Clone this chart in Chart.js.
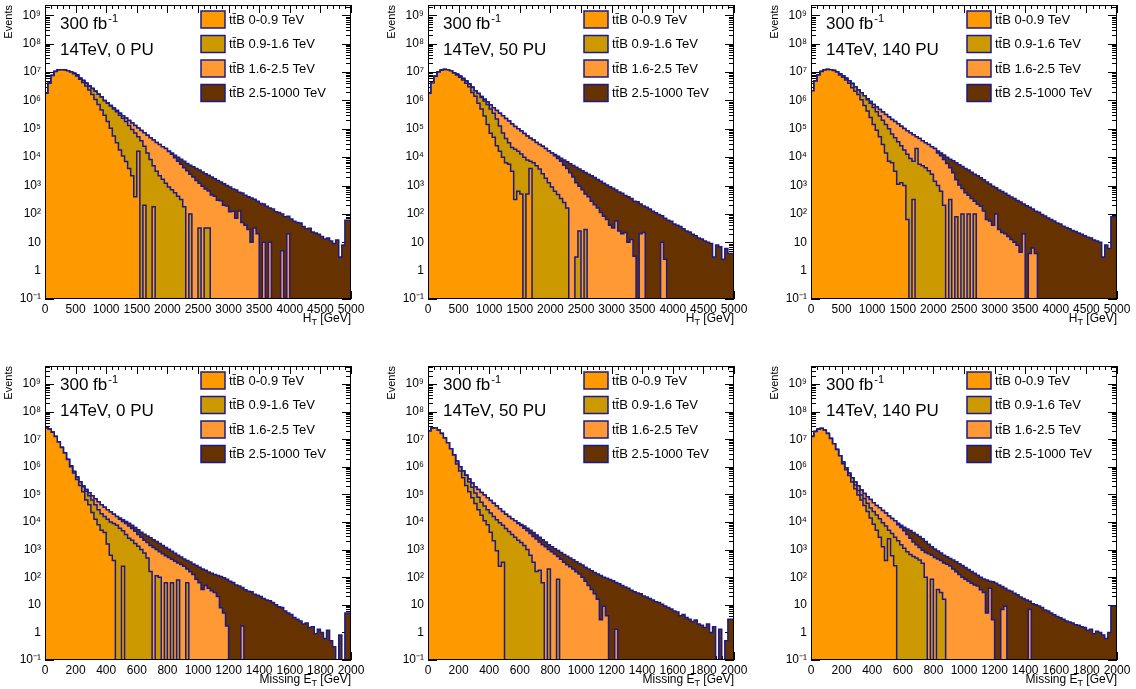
<!DOCTYPE html>
<html>
<head>
<meta charset="utf-8">
<script src="https://cdn.jsdelivr.net/npm/chart.js@4.4.1/dist/chart.umd.min.js"></script>
<style>
  html, body { margin: 0; padding: 0; background: #fff; overflow: hidden; }
  canvas { position: absolute; }
</style>
</head>
<body>
<script>
// Samples of the stack, bottom layer first
const sampleLabels = ['tt\u0304B 0-0.9 TeV', 'tt\u0304B 0.9-1.6 TeV', 'tt\u0304B 1.6-2.5 TeV', 'tt\u0304B 2.5-1000 TeV'];
const sampleColors = ['#ff9900', '#cc9900', '#ff9933', '#663300'];

// Bins: H_T 0-5000 GeV in 50 GeV bins, missing E_T 0-2000 GeV in 20 GeV bins
const htEdges = Array.from({ length: 101 }, (_, i) => i * 50);
const metEdges = Array.from({ length: 101 }, (_, i) => i * 20);
const htTicks = [0, 500, 1000, 1500, 2000, 2500, 3000, 3500, 4000, 4500, 5000];
const metTicks = [0, 200, 400, 600, 800, 1000, 1200, 1400, 1600, 1800, 2000];
const yTickValues = [0.1, 1, 10, 1e2, 1e3, 1e4, 1e5, 1e6, 1e7, 1e8, 1e9];
const yTickLabels = ['10\u207b\u00b9', '1', '10', '10\u00b2', '10\u00b3', '10\u2074', '10\u2075', '10\u2076', '10\u2077', '10\u2078', '10\u2079'];

// Events per bin. "Total" is the top of the stack,
// "TopN" is the upper edge of layer N (layers 1..N summed), as drawn.
// Bins after the last listed value are empty.

// H_T, 0 PU
const ht0Total = [
  5e5, 1.8e6, 4e6, 7.6e6, 1.05e7, 1.17e7, 1.2e7, 1.17e7, 1.1e7, 1e7,
  9.1e6, 7.9e6, 6e6, 5e6, 4e6, 3.2e6, 2.6e6, 2.1e6, 1.66e6, 1.32e6,
  1e6, 8.1e5, 6.6e5, 5.4e5, 4.4e5, 3.5e5, 2.9e5, 2.4e5, 1.95e5, 1.6e5,
  1.3e5, 1.07e5, 8.7e4, 7.2e4, 5.9e4, 4.8e4, 4e4, 3.3e4, 2.8e4, 2.3e4,
  2e4, 1.66e4, 1.4e4, 1.17e4, 1e4, 8500, 7200, 6000, 5200, 4600,
  4000, 3500, 3000, 2600, 2300, 2000, 1740, 1500, 1320, 1150,
  1000, 880, 760, 690, 580, 540, 450, 400, 360, 330,
  280, 230, 225, 185, 160, 150, 120, 112, 100, 80,
  82, 66, 55, 50, 48, 36, 30, 31, 23, 21,
  19, 16, 13, 14, 11, 9, 12, 3, 8, 60];
const ht0Top3 = [...ht0Total.slice(0, 41),
  1.58e4, 1.26e4, 9500, 7100, 5600, 4200, 3300, 2500, 2000, 1500,
  1200, 950, 760, 640, 460, 420, 300, 290, 200, 190,
  120, 125, 70, 126, 50, 40, 28, 10, 32, 20,
  0, 10, 0, 10, 0, 0, 0, 5, 0, 20];
const ht0Top2 = [...ht0Total.slice(0, 20),
  9.8e5, 7.9e5, 6.3e5, 5e5, 4e5, 3e5, 2.35e5, 1.8e5, 1.3e5, 9.5e4,
  7.1e4, 5.2e4, 3.8e4, 2.4e4, 1.4e4, 8300, 5000, 3200, 2200, 1660,
  1200, 890, 710, 560, 420, 320, 180, 0, 100, 0,
  0, 32, 0, 32, 32];
const ht0Top1 = [...ht0Total.slice(0, 10),
  8.7e6, 7.2e6, 5.6e6, 4.3e6, 3.2e6, 2.3e6, 1.6e6, 1.07e6, 7.1e5, 4.6e5,
  3e5, 1.8e5, 1.05e5, 5.6e4, 3.2e4, 1.8e4, 1.1e4, 7000, 4000, 2200,
  400, 1.6e4, 0, 200, 0, 0, 180];

// H_T, 50 PU
const ht50Total = [
  4e5, 1.8e6, 4.2e6, 7.1e6, 1e7, 1.15e7, 1.23e7, 1.2e7, 1.1e7, 9.3e6,
  8.3e6, 7.1e6, 5.9e6, 4.8e6, 3.8e6, 2.9e6, 2.2e6, 1.74e6, 1.38e6, 1.1e6,
  8.7e5, 6.9e5, 5.5e5, 4.4e5, 3.5e5, 2.9e5, 2.3e5, 1.86e5, 1.48e5, 1.2e5,
  1e5, 8.3e4, 6.8e4, 5.6e4, 4.6e4, 4e4, 3.3e4, 2.8e4, 2.4e4, 2e4,
  1.66e4, 1.4e4, 1.23e4, 1.07e4, 9100, 7900, 6900, 5900, 5100, 4400,
  3800, 3300, 2900, 2500, 2200, 1900, 1620, 1410, 1200, 1050,
  910, 800, 700, 590, 530, 440, 400, 350, 280, 265,
  225, 190, 170, 150, 125, 110, 95, 86, 70, 60,
  55, 44, 40, 36, 30, 25, 23, 19, 17, 14,
  13, 11, 10, 9, 3, 8, 7, 2.5, 6, 4];
const ht50Top3 = [...ht50Total.slice(0, 42),
  1.12e4, 8900, 7100, 5200, 4000, 2800, 2000, 1260, 950, 710,
  500, 400, 280, 210, 160, 112, 83, 63, 40, 32,
  56, 25, 20, 22, 10, 12.6, 3.2, 0, 20, 22,
  0, 0, 0, 0, 0, 10, 2.5];
const ht50Top2 = [...ht50Total.slice(0, 18),
  1.26e6, 9.5e5, 7.1e5, 5e5, 3.5e5, 2.2e5, 1.26e5, 7.1e4, 4.5e4, 3.2e4,
  2.2e4, 1.9e4, 1.6e4, 1.3e4, 1e4, 7900, 7100, 6300, 5000, 3800,
  2600, 1800, 1260, 890, 630, 480, 350, 250, 160, 0,
  0, 3, 25, 0, 28];
const ht50Top1 = [...ht50Total.slice(0, 10),
  7.9e6, 6.6e6, 5.2e6, 4e6, 3e6, 1.9e6, 1.4e6, 8e5, 5e5, 2.8e5,
  1.4e5, 7e4, 5e4, 2.5e4, 1.6e4, 1e4, 6300, 5600, 3200, 320,
  630, 500, 0, 500, 4000];

// H_T, 140 PU
const ht140Total = [
  6.3e5, 2.2e6, 4.8e6, 7.9e6, 1.05e7, 1.17e7, 1.23e7, 1.2e7, 1.12e7, 1e7,
  8.7e6, 7.4e6, 6e6, 4.9e6, 3.9e6, 3e6, 2.3e6, 1.86e6, 1.45e6, 1.15e6,
  9.1e5, 7.2e5, 5.9e5, 4.8e5, 3.9e5, 3.2e5, 2.6e5, 2.1e5, 1.8e5, 1.5e5,
  1.23e5, 1.02e5, 8.5e4, 7.2e4, 6.2e4, 5.2e4, 4.5e4, 3.8e4, 3.2e4, 2.8e4,
  2.3e4, 2e4, 1.66e4, 1.4e4, 1.2e4, 1e4, 8500, 7400, 6300, 5400,
  4700, 4000, 3500, 2950, 2500, 2200, 1860, 1580, 1320, 1120,
  950, 840, 690, 610, 530, 450, 390, 345, 295, 260,
  225, 195, 170, 148, 125, 115, 95, 84, 72, 64,
  56, 48, 44, 37, 33, 30, 26, 24, 21, 19,
  17, 15, 14, 12, 11, 10, 3, 8, 6, 80];
const ht140Top3 = [...ht140Total.slice(0, 42),
  1.4e4, 1.12e4, 8300, 6000, 4200, 2800, 1600, 1050, 790, 560,
  450, 350, 280, 220, 186, 126, 63, 56, 40, 100,
  28, 22, 20, 16, 12.6, 10, 7.9, 4.4, 20, 0,
  4, 6.3, 4];
const ht140Top2 = [...ht140Total.slice(0, 19),
  1.05e6, 7.9e5, 5.6e5, 4e5, 2.8e5, 2e5, 1.4e5, 1e5, 6.6e4, 4.8e4,
  3.5e4, 2.5e4, 1.8e4, 1.26e4, 8900, 7100, 2e4, 5600, 5000, 4200,
  3300, 2500, 1400, 1000, 630, 200, 0, 320, 0, 80,
  0, 100, 0, 100, 0, 100];
const ht140Top1 = [...ht140Total.slice(0, 10),
  7.9e6, 6.6e6, 5.2e6, 4e6, 2.8e6, 2.1e6, 1.6e6, 1.05e6, 6.6e5, 4.2e5,
  2.5e5, 1.4e5, 8.9e4, 5.2e4, 2.8e4, 1.4e4, 7100, 6300, 3200, 1100,
  1260, 1000, 63, 0, 320];

// Missing E_T, 0 PU
const met0Total = [
  5.6e6, 2.55e7, 2.3e7, 1.8e7, 1.26e7, 7.9e6, 5e6, 3.2e6, 1.86e6, 1.1e6,
  6.8e5, 4.3e5, 2.8e5, 2e5, 1.5e5, 1.15e5, 8.9e4, 6.9e4, 5.4e4, 4.2e4,
  3.4e4, 2.8e4, 2.3e4, 1.9e4, 1.6e4, 1.4e4, 1.2e4, 1.05e4, 9100, 7600,
  6300, 5200, 4300, 3600, 3100, 2700, 2300, 1950, 1660, 1400,
  1200, 1020, 870, 740, 630, 540, 460, 400, 355, 300,
  263, 229, 200, 178, 155, 138, 126, 115, 105, 95,
  85, 72, 64, 52, 48, 42, 35, 31, 30, 24,
  22, 20, 17, 15, 14, 12, 10, 8.5, 8, 6,
  5, 4.5, 3.5, 3, 2.6, 2, 2.2, 1.5, 1.6, 0.9,
  1.3, 1, 0.6, 1.2, 0.5, 0.3, 0, 0.8, 0, 5];
const met0Top3 = [...met0Total.slice(0, 25),
  1.26e4, 1.05e4, 8900, 7200, 5800, 4600, 3500, 2800, 2200, 1800,
  1400, 1200, 1000, 830, 710, 600, 520, 450, 380, 330,
  290, 250, 200, 158, 126, 85, 63, 36, 50, 40,
  32, 28, 20, 7.9, 5, 1.7, 0, 0, 0, 0, 1.7];
const met0Top2 = [...met0Total.slice(0, 13),
  1.9e5, 1.3e5, 8.9e4, 6.3e4, 4.2e4, 2.8e4, 2e4, 1.6e4, 1.26e4, 1e4,
  8900, 7600, 6000, 4800, 3500, 2600, 2200, 1660, 1320, 1000,
  760, 500, 160, 0, 112, 100, 0, 63, 0, 63,
  0, 80, 0, 0, 63];
const met0Top1 = [...met0Total.slice(0, 9),
  1e6, 6e5, 3.5e5, 2.1e5, 1.26e5, 6.3e4, 4.2e4, 2.2e4, 1.26e4, 7900,
  5000, 4200, 1600, 630, 400, 0, 0, 250];

// Missing E_T, 50 PU
const met50Total = [
  2.5e6, 2e7, 2.5e7, 2.6e7, 2.1e7, 1.6e7, 1.1e7, 7.4e6, 4.5e6, 2.7e6,
  1.6e6, 1e6, 7.1e5, 5e5, 3.6e5, 2.6e5, 1.9e5, 1.5e5, 1.17e5, 9.5e4,
  7.6e4, 6e4, 4.8e4, 3.8e4, 3e4, 2.4e4, 1.9e4, 1.6e4, 1.3e4, 1.12e4,
  9500, 8100, 7100, 6000, 5000, 4200, 3400, 2800, 2300, 1900,
  1500, 1260, 1070, 930, 790, 660, 575, 500, 430, 360,
  316, 275, 230, 200, 170, 148, 132, 115, 100, 91,
  83, 74, 64, 58, 50, 44, 40, 34, 30, 27,
  25, 21, 19, 17, 15, 13, 12, 10.5, 9, 8,
  7, 6, 5.5, 4, 4.5, 3.5, 3, 2.5, 2.8, 2,
  1.8, 1.5, 2, 1, 1.6, 0, 1.3, 0, 0.5, 3];
const met50Top3 = [...met50Total.slice(0, 30),
  8900, 7400, 6000, 4800, 3800, 3000, 2400, 1900, 1500, 1260,
  1000, 830, 690, 560, 450, 350, 280, 240, 200, 158,
  132, 100, 71, 50, 36, 25, 16, 2.9, 8.9, 4,
  0, 0, 1.3];
const met50Top2 = [...met50Total.slice(0, 14),
  2.8e5, 1.8e5, 1.12e5, 7.9e4, 5.2e4, 3.8e4, 2.8e4, 2.1e4, 1.6e4, 1.2e4,
  9500, 7600, 5800, 4500, 3500, 2800, 2200, 1800, 1400, 1000,
  630, 350, 160, 178, 63, 0, 200, 0, 0, 85];
const met50Top1 = [...met50Total.slice(0, 10),
  1.26e6, 7.1e5, 4e5, 2.1e5, 1.26e5, 7.6e4, 4.7e4, 2.8e4, 1.74e4, 1.12e4,
  7900, 4300, 2100, 900, 250, 350];

// Missing E_T, 140 PU
const met140Total = [
  2.5e6, 1.26e7, 1.9e7, 2.3e7, 2.45e7, 2.1e7, 1.6e7, 1.07e7, 6.8e6, 4.2e6,
  2.5e6, 1.5e6, 9.3e5, 5.9e5, 4e5, 2.8e5, 2e5, 1.45e5, 1.07e5, 8.3e4,
  6.5e4, 5e4, 4e4, 3.3e4, 2.6e4, 2.1e4, 1.66e4, 1.35e4, 1.1e4, 9100,
  7600, 6500, 5600, 4900, 4200, 3500, 3000, 2450, 1950, 1550,
  1260, 1050, 890, 760, 630, 550, 480, 420, 360, 310,
  263, 224, 190, 162, 138, 117, 100, 87, 79, 72,
  68, 60, 52, 46, 40, 34, 31, 26, 23, 19,
  17, 15, 13.5, 11, 10, 9, 8, 6.5, 6, 5,
  4.4, 3.8, 3.4, 3, 2.6, 2.4, 2.2, 1.9, 1.8, 1.6,
  1.5, 1.2, 1.3, 0.9, 1.1, 1, 0.8, 0.6, 1, 9];
const met140Top3 = [...met140Total.slice(0, 29),
  7900, 6300, 4800, 3500, 2600, 1900, 1500, 1200, 950, 790,
  710, 630, 520, 460, 400, 330, 295, 257, 200, 158,
  126, 100, 85, 71, 60, 52, 48, 35, 28, 5,
  40, 2.9, 0, 0, 6.8, 8.9, 0, 0, 0, 0, 0, 0, 0, 6.8];
const met140Top2 = [...met140Total.slice(0, 15),
  2.2e5, 1.4e5, 9.5e4, 7.1e4, 4.8e4, 3.2e4, 2.4e4, 1.8e4, 1.3e4, 9500,
  7100, 5000, 3800, 2800, 2100, 1500, 1120, 830, 660, 560,
  500, 420, 320, 100, 0, 85, 0, 36, 28, 16];
const met140Top1 = [...met140Total.slice(0, 11),
  1.3e6, 7.9e5, 4.8e5, 2.8e5, 1.6e5, 9.5e4, 6.3e4, 4e4, 2.4e4, 1.4e4,
  8300, 5000, 2800, 1260, 400, 2500, 600, 260];

const fontFamily = "'Liberation Sans', Arial, Helvetica, sans-serif";
const outlineColor = '#1a1a8a';
const EMPTY = 1e-3; // empty bins sit below the axis minimum

Chart.defaults.font.family = fontFamily;
Chart.defaults.color = '#000';

const htTitle = ['H', 'T', ' [GeV]'];
const metTitle = ['Missing E', 'T', ' [GeV]'];

const panels = [
  { left: 0,   top: 0,   height: 340, padBottom: 21, edges: htEdges,  ticks: htTicks,  minor: 100, title: htTitle,  pileup: '14TeV, 0 PU',   ymax: 2.3e9, layers: [ht0Top1, ht0Top2, ht0Top3, ht0Total] },
  { left: 383, top: 0,   height: 340, padBottom: 21, edges: htEdges,  ticks: htTicks,  minor: 100, title: htTitle,  pileup: '14TeV, 50 PU',  ymax: 2.3e9, layers: [ht50Top1, ht50Top2, ht50Top3, ht50Total] },
  { left: 766, top: 0,   height: 340, padBottom: 21, edges: htEdges,  ticks: htTicks,  minor: 100, title: htTitle,  pileup: '14TeV, 140 PU', ymax: 2.3e9, layers: [ht140Top1, ht140Top2, ht140Top3, ht140Total] },
  { left: 0,   top: 361, height: 328, padBottom: 9,  edges: metEdges, ticks: metTicks, minor: 40,  title: metTitle, pileup: '14TeV, 0 PU',   ymax: 4.5e9, layers: [met0Top1, met0Top2, met0Top3, met0Total] },
  { left: 383, top: 361, height: 328, padBottom: 9,  edges: metEdges, ticks: metTicks, minor: 40,  title: metTitle, pileup: '14TeV, 50 PU',  ymax: 4.5e9, layers: [met50Top1, met50Top2, met50Top3, met50Total] },
  { left: 766, top: 361, height: 328, padBottom: 9,  edges: metEdges, ticks: metTicks, minor: 40,  title: metTitle, pileup: '14TeV, 140 PU', ymax: 4.5e9, layers: [met140Top1, met140Top2, met140Top3, met140Total] }
];

// one point per lower bin edge, plus the closing upper edge
function stepPoints(edges, values) {
  const pts = [];
  for (let i = 0; i < edges.length - 1; i++) {
    const v = i < values.length ? values[i] : 0;
    pts.push({ x: edges[i], y: v > 0 ? v : EMPTY });
  }
  pts.push({ x: edges[edges.length - 1], y: pts[pts.length - 1].y });
  return pts;
}

// ROOT-like frame: inner ticks, legend box, labels
const rootStyle = {
  id: 'rootStyle',
  beforeDatasetsDraw(chart, args, o) {
    const { ctx, chartArea: a, scales: { x, y } } = chart;
    ctx.save();
    ctx.strokeStyle = '#000';
    ctx.lineWidth = 1;
    ctx.beginPath();
    for (let v = x.min; v <= x.max; v += o.minor) {
      const px = Math.round(x.getPixelForValue(v)) + 0.5;
      const len = o.ticks.includes(v) ? 8 : 4;
      ctx.moveTo(px, a.bottom); ctx.lineTo(px, a.bottom - len);
      ctx.moveTo(px, a.top); ctx.lineTo(px, a.top + len);
    }
    for (let e = -1; e <= 9; e++) {
      for (let k = 1; k <= 9; k++) {
        const v = k * Math.pow(10, e);
        if (v < y.min * 0.999 || v > y.max) continue;
        const py = Math.round(y.getPixelForValue(v)) + 0.5;
        const len = k === 1 ? 9 : 5;
        ctx.moveTo(a.left, py); ctx.lineTo(a.left + len, py);
        ctx.moveTo(a.right, py); ctx.lineTo(a.right - len, py);
      }
    }
    ctx.stroke();
    ctx.restore();
  },
  afterDatasetsDraw(chart, args, o) {
    const { ctx, chartArea: a } = chart;
    ctx.save();
    ctx.strokeStyle = '#000';
    ctx.lineWidth = 1;
    ctx.strokeRect(a.left + 0.5, a.top + 0.5, a.width - 1, a.height - 1);

    // legend
    const bx = a.right - 150;
    ctx.font = '13px ' + fontFamily;
    ctx.textBaseline = 'middle';
    chart.data.datasets.forEach((ds, i) => {
      const by = a.top + 6 + i * 24.5;
      ctx.fillStyle = ds.backgroundColor;
      ctx.fillRect(bx, by, 24, 17);
      ctx.strokeStyle = outlineColor;
      ctx.lineWidth = 1.5;
      ctx.strokeRect(bx, by, 24, 17);
      ctx.fillStyle = '#000';
      ctx.fillText(ds.label, bx + 28, by + 9);
    });

    // luminosity and pile-up
    ctx.textBaseline = 'alphabetic';
    ctx.fillStyle = '#000';
    ctx.font = '17px ' + fontFamily;
    const tx = a.left + 15;
    ctx.fillText('300 fb', tx, a.top + 24);
    const w = ctx.measureText('300 fb').width;
    ctx.font = '11px ' + fontFamily;
    ctx.fillText('-1', tx + w + 1, a.top + 17);
    ctx.font = '17px ' + fontFamily;
    ctx.fillText(o.pileup, tx, a.top + 50);

    // x-axis title with subscript, right aligned
    const [main, sub, rest] = o.title;
    ctx.font = '12px ' + fontFamily;
    const wMain = ctx.measureText(main).width;
    const wRest = ctx.measureText(rest).width;
    ctx.font = '9px ' + fontFamily;
    const wSub = ctx.measureText(sub).width;
    let cx = a.right - (wMain + wSub + wRest);
    const base = a.bottom + 23;
    ctx.font = '12px ' + fontFamily;
    ctx.fillText(main, cx, base);
    cx += wMain;
    ctx.font = '9px ' + fontFamily;
    ctx.fillText(sub, cx, base + 3);
    cx += wSub;
    ctx.font = '12px ' + fontFamily;
    ctx.fillText(rest, cx, base);
    ctx.restore();
  }
};

panels.forEach((p) => {
  const canvas = document.createElement('canvas');
  canvas.width = 370;
  canvas.height = p.height;
  canvas.style.left = p.left + 'px';
  canvas.style.top = p.top + 'px';
  document.body.appendChild(canvas);

  new Chart(canvas, {
    type: 'line',
    data: {
      datasets: p.layers.map((vals, k) => ({
        label: sampleLabels[k],
        data: stepPoints(p.edges, vals),
        stepped: 'after',
        fill: 'start',
        backgroundColor: sampleColors[k],
        borderColor: outlineColor,
        borderWidth: 1.5,
        pointRadius: 0
      }))
    },
    options: {
      responsive: false,
      animation: false,
      events: [],
      layout: { padding: { left: 0, top: 5, right: 19, bottom: p.padBottom } },
      plugins: {
        legend: { display: false },
        tooltip: { enabled: false },
        rootStyle: { minor: p.minor, ticks: p.ticks, title: p.title, pileup: p.pileup }
      },
      scales: {
        x: {
          type: 'linear',
          min: 0,
          max: p.edges[p.edges.length - 1],
          grid: { display: false, drawTicks: false },
          border: { display: false },
          afterBuildTicks: (s) => { s.ticks = p.ticks.map((v) => ({ value: v })); },
          afterFit: (s) => { s.height = 20; s.paddingLeft = 0; s.paddingRight = 0; },
          ticks: { autoSkip: false, maxRotation: 0, padding: 3, color: '#000', font: { size: 12 }, callback: (v) => String(v) }
        },
        y: {
          type: 'logarithmic',
          min: 0.1,
          max: p.ymax,
          grid: { display: false, drawTicks: false },
          border: { display: false },
          afterBuildTicks: (s) => { s.ticks = yTickValues.map((v) => ({ value: v })); },
          afterFit: (s) => { s.width = 45; s.paddingTop = 0; s.paddingBottom = 0; },
          ticks: {
            padding: 4, color: '#000', font: { size: 12 },
            callback: (v) => { const i = yTickValues.indexOf(v); return i >= 0 ? yTickLabels[i] : ''; }
          },
          title: { display: true, text: 'Events', align: 'end', color: '#000', font: { size: 11 }, padding: { top: 2, bottom: 0 } }
        }
      }
    },
    plugins: [rootStyle]
  });
});
</script>
</body>
</html>
